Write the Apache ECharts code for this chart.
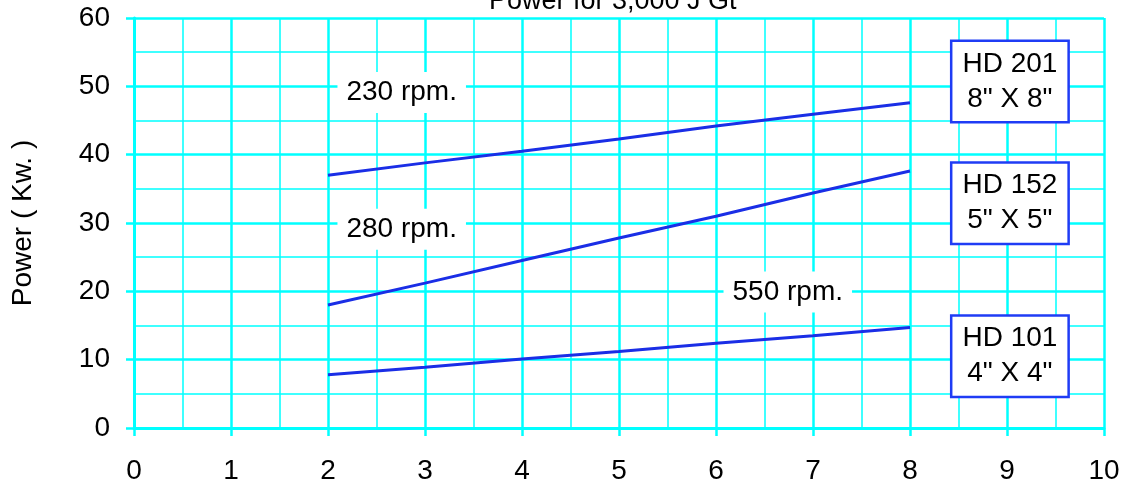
<!DOCTYPE html>
<html>
<head>
<meta charset="utf-8">
<script src="https://cdn.jsdelivr.net/npm/echarts@6/dist/echarts.min.js"></script>
<style>
html,body{margin:0;padding:0;background:#fff;}
#chart{width:1125px;height:482px;}
</style>
</head>
<body>
<div id="chart"></div>
<script>
// ---- data ----
var titleText = 'Power for 3,000 J Gt';
var yAxisName = 'Power ( Kw. )';
var xTicks = [0, 1, 2, 3, 4, 5, 6, 7, 8, 9, 10];
var yTicks = [0, 10, 20, 30, 40, 50, 60];
var xValues = [2, 3, 4, 5, 6, 7, 8];
var rpm230 = [37.0, 38.8, 40.5, 42.3, 44.2, 45.9, 47.6];
var rpm280 = [18.0, 21.2, 24.5, 27.8, 31.0, 34.4, 37.6];
var rpm550 = [7.8, 8.9, 10.1, 11.2, 12.4, 13.5, 14.7];
var rpmLabels = [[2.76, 49.1, '230 rpm.'], [2.76, 29.1, '280 rpm.'], [6.74, 19.9, '550 rpm.']];
var modelLabels = [[9.03, 50.7, 'HD 201\n8" X 8"'], [9.03, 32.9, 'HD 152\n5" X 5"'], [9.03, 10.5, 'HD 101\n4" X 4"']];

function pairs(xs, ys) { return xs.map(function (x, i) { return [x, ys[i]]; }); }

var FONT = '"Liberation Sans", Arial, sans-serif';
var CYAN = '#00ffff';
var LINE = '#1a2ee6';

var chart = echarts.init(document.getElementById('chart'));
var axisCommon = {
  type: 'value',
  axisLine: { show: true, onZero: false, lineStyle: { color: CYAN, width: 3 } },
  axisTick: { show: true, length: 8, lineStyle: { color: CYAN, width: 2.5 } },
  splitLine: { show: true, lineStyle: { color: CYAN, width: 2.5 } },
  minorTick: { show: false, splitNumber: 2 },
  minorSplitLine: { show: true, lineStyle: { color: CYAN, width: 1.5 } },
  axisLabel: { color: '#000', fontSize: 28, fontFamily: FONT }
};
function lineSeries(name, ys) {
  return {
    name: name, type: 'line', data: pairs(xValues, ys), showSymbol: false, symbol: 'none',
    lineStyle: { color: LINE, width: 3 }, z: 3, silent: true
  };
}
chart.setOption({
  animation: false,
  backgroundColor: '#fff',
  title: {
    text: titleText, left: 484, top: -17,
    textStyle: { color: '#000', fontSize: 27, fontWeight: 'normal', fontFamily: FONT }
  },
  grid: { left: 134, right: 21, top: 18, bottom: 54, containLabel: false, outerBoundsMode: 'none' },
  xAxis: Object.assign({}, axisCommon, {
    min: xTicks[0], max: xTicks[xTicks.length - 1], interval: 1,
    axisLabel: Object.assign({}, axisCommon.axisLabel, { margin: 29 })
  }),
  yAxis: Object.assign({}, axisCommon, {
    min: yTicks[0], max: yTicks[yTicks.length - 1], interval: 10,
    axisLabel: Object.assign({}, axisCommon.axisLabel, { margin: 24 }),
    name: yAxisName, nameLocation: 'middle', nameRotate: 90, nameGap: 97, nameMoveOverlap: false,
    nameTextStyle: { color: '#000', fontSize: 28, fontFamily: FONT }
  }),
  series: [
    lineSeries('230 rpm.', rpm230),
    lineSeries('280 rpm.', rpm280),
    lineSeries('550 rpm.', rpm550),
    {
      type: 'scatter', data: rpmLabels, symbolSize: 0.1, itemStyle: { color: 'rgba(0,0,0,0)', opacity: 1 }, z: 5, silent: true,
      label: {
        show: true, position: 'inside', formatter: function (p) { return p.value[2]; },
        color: '#000', opacity: 1, fontSize: 28, fontFamily: FONT, backgroundColor: '#fff', padding: [7, 9, 6, 9]
      }
    },
    {
      type: 'scatter', data: modelLabels, symbolSize: 0.1, itemStyle: { color: 'rgba(0,0,0,0)', opacity: 1 }, z: 5, silent: true,
      label: {
        show: true, position: 'inside', formatter: function (p) { return p.value[2]; },
        color: '#000', opacity: 1, fontSize: 28, lineHeight: 35, fontFamily: FONT, backgroundColor: '#fff',
        borderColor: '#1f3cf5', borderWidth: 2.5, padding: [5, 10, 4, 10], align: 'center'
      }
    }
  ]
});
</script>
</body>
</html>
